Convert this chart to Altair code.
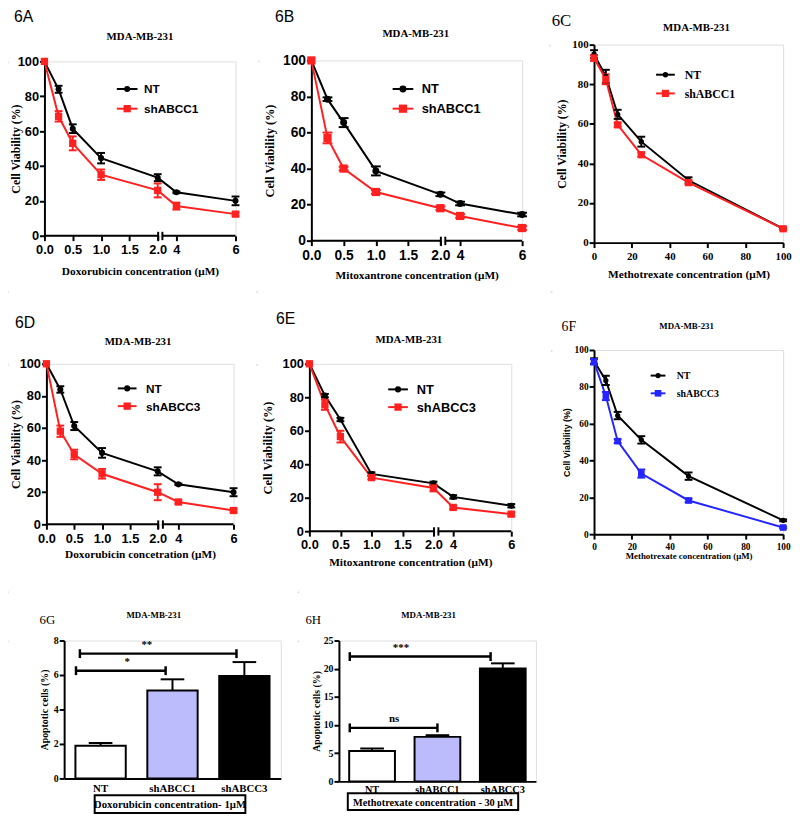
import altair as alt
import pandas as pd

SANS = "Liberation Sans"
SERIF = "Liberation Serif"
BLACK = "#000000"
RED = "#ff2020"
BLUE = "#2424ff"
LAVENDER = "#bcbcfc"

# ---------------- data ----------------
conc_dm = [0, 0.25, 0.5, 1, 2, 4, 6]          # doxorubicin / mitoxantrone (uM)
conc_mtx = [0, 6.25, 12.5, 25, 50, 100]       # methotrexate (uM)
dm_ticks = [0, 0.5, 1, 1.5, 2, 4, 6]
mtx_ticks = [0, 20, 40, 60, 80, 100]
via_ticks = [0, 20, 40, 60, 80, 100]
axis_break = [2.05, 2.5]

a_nt = [100, 84, 61.4, 44.5, 33.3, 24.9, 20]
a_nt_err = [0, 2, 2.5, 3, 2, 0.5, 2.5]
a_sh = [100, 68.5, 53, 35, 26, 17, 12.4]
a_sh_err = [0, 3, 4, 3, 4, 2, 1]

b_nt = [100, 78.5, 65.5, 38.7, 25.7, 20.6, 14.5]
b_nt_err = [0, 1, 2.5, 2.5, 1, 1, 1]
b_sh = [100, 57, 40, 27, 18, 13.7, 7]
b_sh_err = [0, 3, 1, 1, 1, 1, 1]

c_nt = [95.2, 84, 64.8, 51, 31.5, 7.1]
c_nt_err = [2, 3.3, 2.3, 2.5, 1.5, 0.5]
c_sh = [93.3, 82.5, 59.5, 44.4, 30.3, 7.0]
c_sh_err = [1.5, 2.5, 1, 1, 1, 0.5]

d_nt = [100, 84, 61.2, 44.5, 33, 24.9, 20]
d_nt_err = [0, 2, 2.5, 3, 2.5, 0.5, 2.5]
d_sh = [100, 58, 43.5, 31.5, 20, 13.9, 8.6]
d_sh_err = [0, 3.5, 3, 3, 5, 1, 1]

e_nt = [100, 81, 66.7, 34.2, 28.6, 20.5, 15.2]
e_nt_err = [0, 1, 1, 1, 1, 1, 1]
e_sh = [100, 75.5, 56.5, 32, 25.8, 14.2, 10.2]
e_sh_err = [0, 3, 3.5, 1, 2, 1, 1]

f_nt = [94, 83.5, 64.4, 51.2, 31.5, 7.5]
f_nt_err = [1.5, 2.5, 2, 2, 2, 0.5]
f_sh = [93.6, 75, 50.5, 32.9, 18.3, 3.6]
f_sh_err = [1.5, 2.2, 1, 2.2, 1, 0.5]

groups = ["NT", "shABCC1", "shABCC3"]
bar_fills = ["#ffffff", LAVENDER, BLACK]
g_val = [1.9, 5.1, 5.95]
g_err = [0.15, 0.65, 0.8]
h_val = [5.4, 7.9, 20.05]
h_err = [0.45, 0.3, 0.9]

# significance brackets (x on a 0..3 category axis)
g_br_x1 = [0.164, 0.218]
g_br_x2 = [1.405, 2.386]
g_br_y = [6.25, 7.24]
g_br_lab = ["*", "**"]
g_br_lx = [0.873, 1.145]
h_br_x1 = [0.165, 0.165]
h_br_x2 = [1.5, 2.31]
h_br_y = [9.5, 22.15]
h_br_lab = ["ns", "***"]
h_br_lx = [0.84, 0.945]


def curve_frame(x, nt, nt_err, sh, sh_err, sh_name):
    n = len(x)
    return pd.DataFrame({
        "x": list(x) + list(x),
        "y": list(nt) + list(sh),
        "err": list(nt_err) + list(sh_err),
        "series": ["NT"] * n + [sh_name] * n,
    })


def text_layer(txt, x, y, font, size, weight="normal", align="left", baseline="alphabetic"):
    return alt.Chart(pd.DataFrame({"t": [txt]})).mark_text(
        font=font, fontSize=size, fontWeight=weight, align=align,
        baseline=baseline, color=BLACK
    ).encode(text="t:N", x=alt.value(x), y=alt.value(y))


def frame_layer(w, h, fr):
    L, T, R, B = fr
    return alt.Chart(pd.DataFrame({"f": [0]})).mark_rect(opacity=0).encode(
        x=alt.value(-L), x2=alt.value(w + R), y=alt.value(-T), y2=alt.value(h + B))


def legend_layers(p, names, colors):
    """A hand-drawn legend: line + marker + label for each series."""
    out = []
    sym = p["sym"]
    cx = p["lx"] + sym / 2.0
    for i, (nm, col) in enumerate(zip(names, colors)):
        cy = p["ly"] + sym / 2.0 + i * sym
        one = alt.Chart(pd.DataFrame({"series": [nm]}))
        out.append(one.mark_rule(color=col, strokeWidth=2).encode(
            x=alt.value(cx - p["half"]), x2=alt.value(cx + p["half"]), y=alt.value(cy)))
        out.append(one.mark_point(shape="circle" if i == 0 else "square", filled=True,
                                  opacity=1, color=col,
                                  size=p["cs"] if i == 0 else p["ss"]).encode(
            x=alt.value(cx), y=alt.value(cy)))
        out.append(one.mark_text(font=p["lf"], fontSize=p["ls"], fontWeight="bold",
                                 align="left", baseline="middle", color=BLACK).encode(
            text="series:N", x=alt.value(p["lx"] + sym + p["loff"]), y=alt.value(cy + 0.5)))
    return out


TICKS = dict(tickColor=BLACK, tickWidth=2, tickSize=5, labelColor=BLACK, grid=False,
             domainColor=BLACK, domainWidth=2, titleColor=BLACK)


def curve_panel(p):
    w, h = p["w"], p["h"]
    names = ["NT", p["sh"]]
    colors = [BLACK, p["color"]]
    df = curve_frame(p["x"], p["nt"], p["nt_err"], p["shv"], p["sh_err"], p["sh"])
    cscale = alt.Scale(domain=names, range=colors)
    yscale = alt.Scale(domain=[0, 100], nice=False, zero=False)
    yaxis = alt.Axis(values=via_ticks, labelFont=p["tf"], labelFontSize=p["ts"],
                     labelFontWeight="bold", labelPadding=1,
                     title="Cell Viability (%)", titleFont=p["ytf"], titleFontSize=p["yts"],
                     titleFontWeight="bold", titleX=p["ytx"], titleY=h / 2,
                     titleBaseline="middle", **TICKS)
    xcommon = dict(labelFont=p["tf"], labelFontSize=p["ts"], labelFontWeight="bold",
                   labelPadding=p["xlp"], labelFlush=False, labelOverlap=False, labelAngle=0,
                   title=p["xtitle"], titleFont=SERIF, titleFontSize=p["xts"],
                   titleFontWeight="bold", titleY=p["xty"], titleBaseline="alphabetic", **TICKS)
    if p["broken"]:
        xscale = alt.Scale(domain=[0, 2, 4, 6], range=[0, p["r2"], p["r4"], w],
                           nice=False, zero=False)
        xaxis = alt.Axis(values=dm_ticks, domain=False,
                         labelExpr="datum.value <= 2 ? format(datum.value, '.1f') : format(datum.value, 'd')",
                         **xcommon)
    else:
        xscale = alt.Scale(domain=[0, 100], nice=False, zero=False)
        xaxis = alt.Axis(values=mtx_ticks, **xcommon)

    def X(f):
        return alt.X(f, scale=xscale, axis=xaxis)

    def Y(f):
        return alt.Y(f, scale=yscale, axis=yaxis)

    C = alt.Color("series:N", scale=cscale, legend=None)
    base = alt.Chart(df)
    layers = [frame_layer(w, h, p["frame"])]
    layers.append(base.mark_line(strokeWidth=2).encode(x=X("x:Q"), y=Y("y:Q"), color=C))
    errd = base.transform_filter("datum.err > 0").transform_calculate(
        lo="datum.y - datum.err", hi="datum.y + datum.err")
    layers.append(errd.mark_rule(strokeWidth=2, opacity=1).encode(
        x=X("x:Q"), y=Y("lo:Q"), y2="hi:Q", color=C))
    for f in ["lo:Q", "hi:Q"]:
        layers.append(errd.mark_tick(orient="horizontal", size=p["cap"], thickness=2, opacity=1)
                      .encode(x=X("x:Q"), y=Y(f), color=C))
    layers.append(base.transform_filter("datum.series == 'NT'").mark_point(
        shape="circle", filled=True, opacity=1, size=p["cs"]).encode(x=X("x:Q"), y=Y("y:Q"), color=C))
    layers.append(base.transform_filter("datum.series != 'NT'").mark_point(
        shape="square", filled=True, opacity=1, size=p["ss"]).encode(x=X("x:Q"), y=Y("y:Q"), color=C))

    if p["broken"]:
        seg = pd.DataFrame({"s": [0, axis_break[1]], "e": [axis_break[0], 6]})
        layers.append(alt.Chart(seg).mark_rule(strokeWidth=2, color=BLACK).encode(
            x=X("s:Q"), x2="e:Q", y=alt.value(h)))
        brk = pd.DataFrame({"b": axis_break})
        layers.append(alt.Chart(brk).mark_rule(strokeWidth=2, color=BLACK).encode(
            x=X("b:Q"), y=alt.value(h - 4), y2=alt.value(h + 4.5)))

    layers += legend_layers(p, names, colors)
    lab = p["label"]
    layers.append(text_layer(lab[0], lab[1], lab[2], lab[3], lab[4]))
    layers.append(text_layer("MDA-MB-231", p["tx"], p["ty"], SERIF, p["tsz"], "bold", "center"))
    return alt.layer(*layers).properties(width=w, height=h)


def bar_panel(p):
    w, h = p["w"], p["h"]
    df = pd.DataFrame({"group": groups, "value": p["val"], "err": p["err"]})
    xscale = alt.Scale(domain=groups, paddingInner=0.3, paddingOuter=0.157)
    xaxis = alt.Axis(labelFont=SERIF, labelFontSize=p["xls"], labelFontWeight="bold",
                     labelAngle=0, ticks=False, labelPadding=p["xlp"], title=None, **TICKS)
    yscale = alt.Scale(domain=[0, p["ymax"]], nice=False, zero=True)
    yaxis = alt.Axis(values=p["yticks"], labelFont=SERIF, labelFontSize=p["yls"],
                     labelFontWeight="bold", labelPadding=1,
                     title="Apoptotic cells (%)", titleFont=SERIF, titleFontSize=p["yts"],
                     titleFontWeight="bold", titleX=p["ytx"], titleY=h / 2,
                     titleBaseline="middle", **TICKS)
    X = alt.X("group:N", scale=xscale, axis=xaxis, sort=groups)
    base = alt.Chart(df).transform_calculate(hi="datum.value + datum.err")
    bars = base.mark_bar(stroke=BLACK, strokeWidth=2, opacity=1).encode(
        x=X, y=alt.Y("value:Q", scale=yscale, axis=yaxis),
        fill=alt.Fill("group:N", scale=alt.Scale(domain=groups, range=bar_fills), legend=None))
    err = base.mark_rule(strokeWidth=2, color=BLACK).encode(
        x=X, y=alt.Y("value:Q", scale=yscale, axis=yaxis), y2="hi:Q")
    cap = base.mark_tick(orient="horizontal", size=24, thickness=2, color=BLACK, opacity=1).encode(
        x=X, y=alt.Y("hi:Q", scale=yscale, axis=yaxis))
    bar_group = alt.layer(bars, err, cap)

    br = pd.DataFrame({"x1": p["bx1"], "x2": p["bx2"], "y": p["by"],
                       "lab": p["blab"], "lx": p["blx"]})
    bx = alt.Scale(domain=[0, 3], nice=False, zero=False)
    BY = alt.Y("y:Q", scale=yscale, axis=yaxis)
    bl = alt.Chart(br).mark_rule(strokeWidth=2.5, color=BLACK).encode(
        x=alt.X("x1:Q", scale=bx, axis=None), x2="x2:Q", y=BY)
    bc = alt.Chart(br).transform_fold(["x1", "x2"], as_=["end", "xe"]).mark_tick(
        orient="vertical", size=9, thickness=2.5, color=BLACK, opacity=1).encode(
        x=alt.X("xe:Q", scale=bx, axis=None), y=BY)
    bt = alt.Chart(br).mark_text(font=SERIF, fontSize=11, fontWeight="bold", color=BLACK,
                                 baseline="bottom", dy=-4).encode(
        x=alt.X("lx:Q", scale=bx, axis=None), y=BY, text="lab:N")
    br_group = alt.layer(bl, bc, bt)

    box = alt.Chart(pd.DataFrame({"t": [p["box"]]})).mark_rect(
        fill="white", fillOpacity=0, stroke=BLACK, strokeWidth=2).encode(
        x=alt.value(p["bxl"]), x2=alt.value(p["bxr"]), y=alt.value(p["byt"]), y2=alt.value(p["byb"]))
    boxt = text_layer(p["box"], (p["bxl"] + p["bxr"]) / 2, (p["byt"] + p["byb"]) / 2 + 1,
                      SERIF, p["bfs"], "bold", "center", "middle")
    lab = p["label"]
    lt = text_layer(lab[0], lab[1], lab[2], SERIF, lab[3])
    tt = text_layer("MDA-MB-231", p["tx"], p["ty"], SERIF, 9, "bold", "center")
    return alt.layer(frame_layer(w, h, p["frame"]), bar_group, br_group, box, boxt, lt, tt
                     ).resolve_scale(x="independent").properties(width=w, height=h)


common_dm = dict(broken=True, x=conc_dm, tf=SANS, ytf=SERIF, lf=SANS, xlp=3)
pA = curve_panel(dict(common_dm, w=194, h=177, r2=115, r4=134, sh="shABCC1", color=RED,
                      nt=a_nt, nt_err=a_nt_err, shv=a_sh, sh_err=a_sh_err,
                      ts=13, yts=12, ytx=-29, xtitle="Doxorubicin concentration (\u03bcM)", xts=11.5, xty=39,
                      cap=8, cs=38, ss=55, sym=20, half=10.5, lx=74, ly=18, ls=12, loff=7,
                      label=("6A", -31, -40, SANS, 16), tx=97, ty=-22, tsz=11,
                      frame=(35, 51, 21, 54)))
pB = curve_panel(dict(common_dm, w=214, h=183, r2=131, r4=151, sh="shABCC1", color=RED,
                      nt=b_nt, nt_err=b_nt_err, shv=b_sh, sh_err=b_sh_err,
                      ts=14, yts=12.5, ytx=-42, xtitle="Mitoxantrone concentration (\u03bcM)", xts=11.5, xty=38,
                      cap=10, cs=50, ss=70, sym=20, half=10.5, lx=83, ly=19, ls=13, loff=9,
                      label=("6B", -37, -39, SANS, 16), tx=106, ty=-24, tsz=11,
                      frame=(51, 50, 25, 49)))
pC = curve_panel(dict(broken=False, x=conc_mtx, tf=SERIF, ytf=SERIF, lf=SERIF, xlp=3,
                      w=192, h=201, sh="shABCC1", color=RED,
                      nt=c_nt, nt_err=c_nt_err, shv=c_sh, sh_err=c_sh_err,
                      ts=11, yts=12, ytx=-33, xtitle="Methotrexate concentration (\u03bcM)", xts=11.5, xty=35,
                      cap=8, cs=30, ss=54, sym=19, half=9.5, lx=63, ly=21, ls=12, loff=10,
                      label=("6C", -43, -19, SERIF, 17), tx=104, ty=-14, tsz=11,
                      frame=(43, 36, 7, 45)))
pD = curve_panel(dict(common_dm, w=190, h=163, r2=113, r4=134, sh="shABCC3", color=RED,
                      nt=d_nt, nt_err=d_nt_err, shv=d_sh, sh_err=d_sh_err,
                      ts=13, yts=12, ytx=-31, xtitle="Doxorubicin concetration (\u03bcM)", xts=11.5, xty=34,
                      cap=8, cs=38, ss=55, sym=18, half=9.5, lx=73, ly=16, ls=12, loff=10,
                      label=("6D", -32, -36, SANS, 16), tx=93, ty=-19, tsz=11,
                      frame=(37, 71, 21, 66)))
pE = curve_panel(dict(common_dm, w=205, h=170, r2=126, r4=146, sh="shABCC3", color=RED,
                      nt=e_nt, nt_err=e_nt_err, shv=e_sh, sh_err=e_sh_err,
                      ts=13, yts=12.5, ytx=-42, xtitle="Mitoxantrone concentration (\u03bcM)", xts=11.5, xty=35,
                      cap=8, cs=38, ss=55, sym=18, half=10, lx=81, ly=17, ls=13, loff=10,
                      label=("6E", -34, -40, SANS, 16), tx=101, ty=-21, tsz=11,
                      frame=(51, 71, 38, 59)))
pF = curve_panel(dict(broken=False, x=conc_mtx, tf=SERIF, ytf=SANS, lf=SERIF, xlp=3,
                      w=192, h=187, sh="shABCC3", color=BLUE,
                      nt=f_nt, nt_err=f_nt_err, shv=f_sh, sh_err=f_sh_err,
                      ts=9.5, yts=9, ytx=-28, xtitle="Methotrexate concentration (\u03bcM)", xts=9, xty=25,
                      cap=8, cs=28, ss=45, sym=18, half=7.5, lx=56, ly=17, ls=10, loff=10,
                      label=("6F", -33, -19, SERIF, 14), tx=94, ty=-21, tsz=9,
                      frame=(41, 57, 7, 56)))

pG = bar_panel(dict(w=220, h=140, val=g_val, err=g_err, ymax=8, yticks=[0, 2, 4, 6, 8],
                    xls=11, yls=10, yts=10, ytx=-20, xlp=4,
                    bx1=g_br_x1, bx2=g_br_x2, by=g_br_y, blab=g_br_lab, blx=g_br_lx,
                    box="Doxorubicin concentration- 1\u03bcM", bxl=31, bxr=184, byt=157, byb=175, bfs=11,
                    label=("6G", -25, -17, 13), tx=91, ty=-23,
                    frame=(55, 47, 15, 36)))
pH = bar_panel(dict(w=200, h=143, val=h_val, err=h_err, ymax=25, yticks=[0, 5, 10, 15, 20, 25],
                    xls=10.5, yls=10, yts=10, ytx=-23, xlp=3,
                    bx1=h_br_x1, bx2=h_br_x2, by=h_br_y, blab=h_br_lab, blx=h_br_lx,
                    box="Methotrexate concentration - 30 \u03bcM", bxl=9, bxr=182, byt=155, byb=172, bfs=10.5,
                    label=("6H", -34, -17, 13), tx=91, ty=-23,
                    frame=(39, 47, 253, 33)))


def spacer():
    return alt.Chart(pd.DataFrame({"z": [0]})).mark_point(size=0, opacity=0).encode(
        x=alt.X("z:Q", axis=None), y=alt.Y("z:Q", axis=None)).properties(width=1, height=1)


def cell(panel):
    # anchor the panel's invisible frame (not its plot area) at the grid origin
    inner = alt.hconcat(spacer(), panel, spacing=0)
    return alt.vconcat(spacer(), inner, spacing=0)


IND = dict(color="independent", fill="independent")


def row(*charts):
    return alt.hconcat(*[cell(c) for c in charts], spacing=0).resolve_scale(**IND)


row1 = row(pA, pB, pC)
row2 = row(pD, pE, pF)
row3 = row(pG, pH)

chart = alt.vconcat(row1, row2, row3, spacing=0).resolve_scale(**IND).properties(
    padding={"left": -2, "top": -9, "right": 0, "bottom": 0}
).configure_view(strokeWidth=0).configure(background="white")

chart.save("out.html", embed_options={"renderer": "svg", "actions": False})
